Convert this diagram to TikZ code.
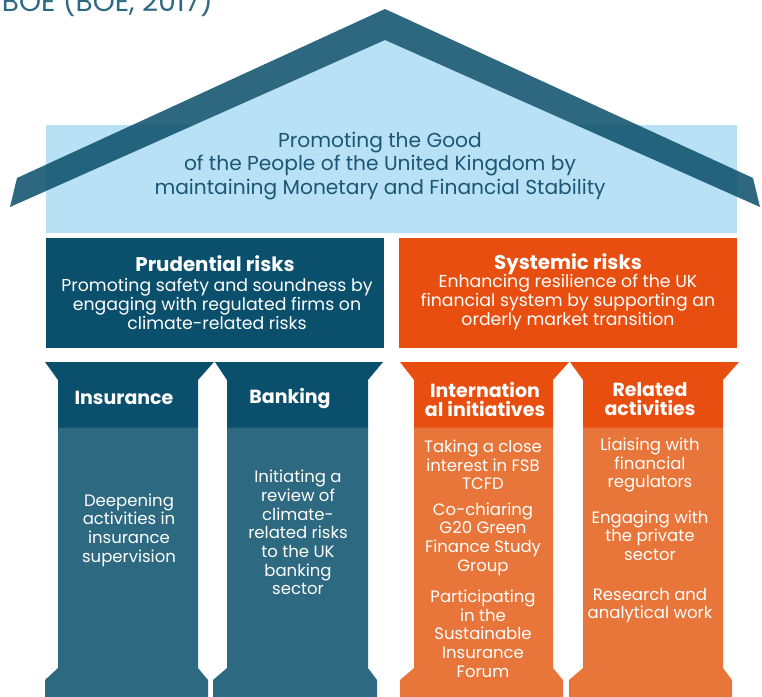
\documentclass[tikz,border=0pt]{standalone}
\usepackage{fontspec}
\setmainfont{Poppins}
\definecolor{darkteal}{HTML}{0A4F6C}
\definecolor{midteal}{HTML}{2D6A82}
\definecolor{roofc}{HTML}{094D6A}
\definecolor{lightblue}{HTML}{B8E1F5}
\definecolor{orangedark}{HTML}{E84E0F}
\definecolor{orangelight}{HTML}{E8763A}
\definecolor{toptext}{HTML}{1B5674}
\newcommand{\drawpillar}[8]{%
  \fill[#8] (#3,427) -- (#4,427) -- (#4,668) -- (#6,680) -- (#6,697) -- (#5,697) -- (#5,680) -- (#3,668) -- cycle;
  \fill[#7] (#1,362) -- (#2,362) -- (#4,380) -- (#4,427.5) -- (#3,427.5) -- (#3,380) -- cycle;
}
\tikzset{
  bodytext/.style={text=white, align=center, inner sep=0pt, font=\fontsize{16.5}{18.7}\selectfont},
  captitle/.style={text=white, align=center, inner sep=0pt, font=\bfseries\fontsize{19}{19}\selectfont},
  boxtitle/.style={text=white, align=center, inner sep=0pt, font=\bfseries\fontsize{19.8}{19}\selectfont},
  boxbody/.style={text=white, align=center, inner sep=0pt, font=\fontsize{17.3}{19}\selectfont},
}
\begin{document}
\begin{tikzpicture}[x=1pt,y=-1pt]
\useasboundingbox (0,0) rectangle (762,696);
% caption fragment
\node[anchor=base east, inner sep=0pt, text=midteal, font=\fontsize{28}{30}\selectfont] (cap) at (213,12) {BOE (BOE, 2017)};
% light blue house body
\fill[lightblue] (46,233) -- (46,125) -- (194,125) -- (385,40) -- (576,125) -- (737,125) -- (737,233) -- cycle;
% roof
\fill[roofc, opacity=0.85] (17,178) -- (385,9) -- (753,178) -- (760,207) -- (385,40) -- (10,207) -- cycle;
\node[text=toptext, align=center, inner sep=0pt, font=\fontsize{20.2}{23.5}\selectfont] (goal) at (380,166)
  {Promoting the Good\\of the People of the United Kingdom by\\maintaining Monetary and Financial Stability};
% risk boxes
\fill[darkteal] (46,238) rectangle (384,348);
\fill[orangedark] (399,238) rectangle (737,348);
\node[boxtitle] (prt) at (215,264) {Prudential risks};
\node[boxbody] (prb) at (217,304) {Promoting safety and soundness by\\engaging with regulated firms on\\climate-related risks};
\node[boxtitle] (syt) at (568,264) {Systemic risks};
\node[boxbody] (syb) at (568,302) {Enhancing resilience of the UK\\financial system by supporting an\\orderly market transition};
% pillars
\drawpillar{45}{214}{58}{198}{45}{208}{darkteal}{midteal}
\drawpillar{215}{383}{227}{368}{213}{377}{darkteal}{midteal}
\drawpillar{400}{569}{414}{553}{400}{563}{orangedark}{orangelight}
\drawpillar{570}{739}{583}{723}{569}{732}{orangedark}{orangelight}
% pillar titles
\node[captitle] (ins) at (124,398) {Insurance};
\node[captitle] (ban) at (290,398) {Banking};
\node[captitle] (int) at (485,399.5) {Internation\\al initiatives};
\node[captitle] (rel) at (650,399.5) {Related\\activities};
% pillar bodies
\node[bodytext] (insb) at (129,530) {Deepening\\activities in\\insurance\\supervision};
\node[bodytext] (banb) at (298,532.5) {Initiating a\\review of\\climate-\\related risks\\to the UK\\banking\\sector};
\node[bodytext] (int1) at (483,465) {Taking a close\\interest in FSB\\TCFD};
\node[bodytext] (int2) at (483,539) {Co-chiaring\\G20 Green\\Finance Study\\Group};
\node[bodytext] (int3) at (483,633.5) {Participating\\in the\\Sustainable\\Insurance\\Forum};
\node[bodytext] (rel1) at (650,465) {Liaising with\\financial\\regulators};
\node[bodytext] (rel2) at (650,535.5) {Engaging with\\the private\\sector};
\node[bodytext] (rel3) at (650,605.5) {Research and\\analytical work};
\end{tikzpicture}
\end{document}
